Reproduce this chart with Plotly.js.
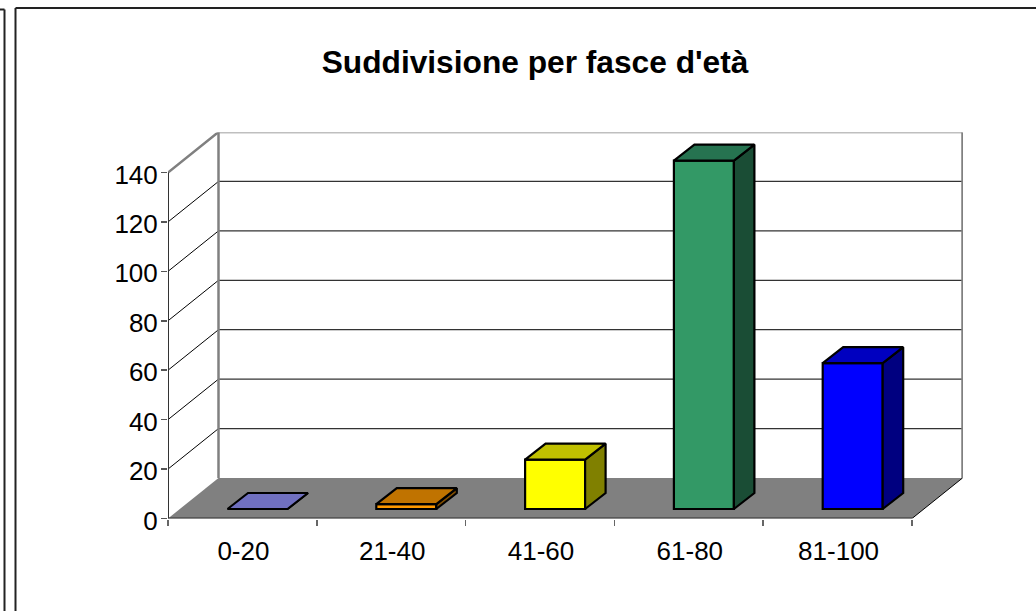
<!DOCTYPE html>
<html><head><meta charset="utf-8">
<script src="https://cdn.plot.ly/plotly-3.0.1.min.js"></script>
<style>html,body{margin:0;padding:0;background:#fff;overflow:hidden}#c{width:1036px;height:611px}</style>
</head><body><div id="c"></div>
<script>
const categories = ['0-20','21-40','41-60','61-80','81-100'];
const values = [0,2,20,141,59];
const frontColors = ['#7070C0','#FF9900','#FFFF00','#339966','#0000FF'];
const topColors = ['#7070C0','#C07300','#C0C000','#267350','#0000C0'];
const sideColors = ['#5454A0','#804D00','#808000','#1A4D35','#000080'];
const yTicks = [0,20,40,60,80,100,120,140];

const W=1036,H=611,L=168,R=963,T=132.5,B=518.5;
const CAT=148.8, UNIT=346/140;
const DX=50.5/CAT, DY=40.5/UNIT;          // wall depth, data units
const BAR_W=60/CAT;
const SHIFT_X=(-0.5+ (227.5-168)/CAT) + BAR_W/2;  // front-face centre offset within a category
const BASE=9.5/UNIT;                     // floor position of the front faces
const BDX=20.5/CAT, BDY=16/UNIT;          // bar depth

const px=x=>x/W, py=y=>1-y/H;
const shapes=[];
const traces=[];
function seg(x0,y0,x1,y1,color,width){shapes.push({type:'line',layer:'below',xref:'x',yref:'y',x0,y0,x1,y1,line:{color,width}});}
function edge(xs,ys,color,width){traces.push({type:'scatter',mode:'lines',x:xs,y:ys,cliponaxis:false,line:{color,width},hoverinfo:'skip',showlegend:false});}
const x0=-0.5, xN=categories.length-0.5;
const yMax=yTicks[yTicks.length-1];
// floor
shapes.push({type:'path',layer:'below',xref:'x',yref:'y',
  path:`M${x0},0 L${x0+DX},${DY} L${xN+DX},${DY} L${xN},0 Z`,fillcolor:'#808080',line:{width:0}});
// gridlines on the side and back walls
yTicks.forEach(v=>{
  if(v===0||v===yMax)return;
  seg(x0,v,x0+DX,v+DY,'#000000',1);
  seg(x0+DX,v+DY,xN+DX,v+DY,'#333333',1.2);
});
seg(x0+DX,DY,x0+DX,yMax+DY,'#808080',2.5);
seg(xN,0,xN+DX,DY,'#000000',1);
// outer frames
const frame=(a,b,c,d)=>shapes.push({type:'line',xref:'paper',yref:'paper',x0:px(a),y0:py(b),x1:px(c),y1:py(d),line:{color:'#222222',width:2}});
frame(15.5,8,1036,8);
frame(15.5,8,15.5,611);
frame(0,9.5,4.5,9.5);
frame(4.5,9.5,4.5,611);

const centers=categories.map((_,i)=>i+SHIFT_X);
traces.push({type:'bar',x:centers,y:values,base:values.map(()=>BASE),width:BAR_W,
  marker:{color:frontColors,line:{color:'#000',width:2.2}},hoverinfo:'skip',showlegend:false});
const poly=(xs,ys,color)=>traces.push({type:'scatter',mode:'lines',x:xs,y:ys,fill:'toself',fillcolor:color,
  line:{color:'#000',width:2.2,simplify:false},hoverinfo:'skip',showlegend:false});
values.forEach((v,i)=>{
  const a=centers[i]-BAR_W/2,b=centers[i]+BAR_W/2,lo=BASE,hi=BASE+v;
  poly([b,b+BDX,b+BDX,b,b],[lo,lo+BDY,hi+BDY,hi,lo],sideColors[i]);
  poly([a,a+BDX,b+BDX,b,a],[hi,hi+BDY,hi+BDY,hi,hi],topColors[i]);
});
// edges lying on the border of the plot area
edge([xN+DX,xN+DX],[DY,yMax+DY],'#808080',2.5);
edge([x0,x0+DX,xN+DX],[yMax,yMax+DY,yMax+DY],'#808080',2.5);
edge([x0,x0],[0,yMax],'#333333',2);
edge([x0,xN],[0,0],'#333333',2);

const font={family:'"Liberation Sans",Arial,sans-serif',color:'#000'};
const layout={
  width:W,height:H,margin:{l:0,r:0,t:0,b:0,pad:0},paper_bgcolor:'#fff',plot_bgcolor:'rgba(0,0,0,0)',
  showlegend:false,bargap:0,
  title:{text:"Suddivisione per fasce d'età",font:{...font,size:31.7,weight:700},x:535/W,xanchor:'center',y:1-62/H,yanchor:'middle'},
  xaxis:{domain:[L/W,R/W],range:[x0,(R-L)/CAT-0.5],type:'linear',showgrid:false,zeroline:false,showline:false,
    tickmode:'array',tickvals:categories.map((_,i)=>i),ticktext:categories,
    ticks:'outside',ticklen:9,tickwidth:0,tickcolor:'rgba(0,0,0,0)',ticklabelshift:1,
    tickfont:{...font,size:26},
    minor:{tickmode:'array',tickvals:categories.map((_,i)=>i-0.5).concat([xN]),ticks:'outside',ticklen:6,tickwidth:1.5,tickcolor:'#666',showgrid:false}},
  yaxis:{domain:[1-B/H,1-T/H],range:[0,(B-T)/UNIT],showgrid:false,zeroline:false,showline:false,
    tickmode:'array',tickvals:yTicks,ticktext:yTicks.map(String),
    ticks:'outside',ticklen:6,tickwidth:1.5,tickcolor:'#555',ticklabelstandoff:-2,ticklabelshift:2,tickfont:{...font,size:26}},
  shapes
};
Plotly.newPlot('c',traces,layout,{displayModeBar:false,staticPlot:true});
</script></body></html>
